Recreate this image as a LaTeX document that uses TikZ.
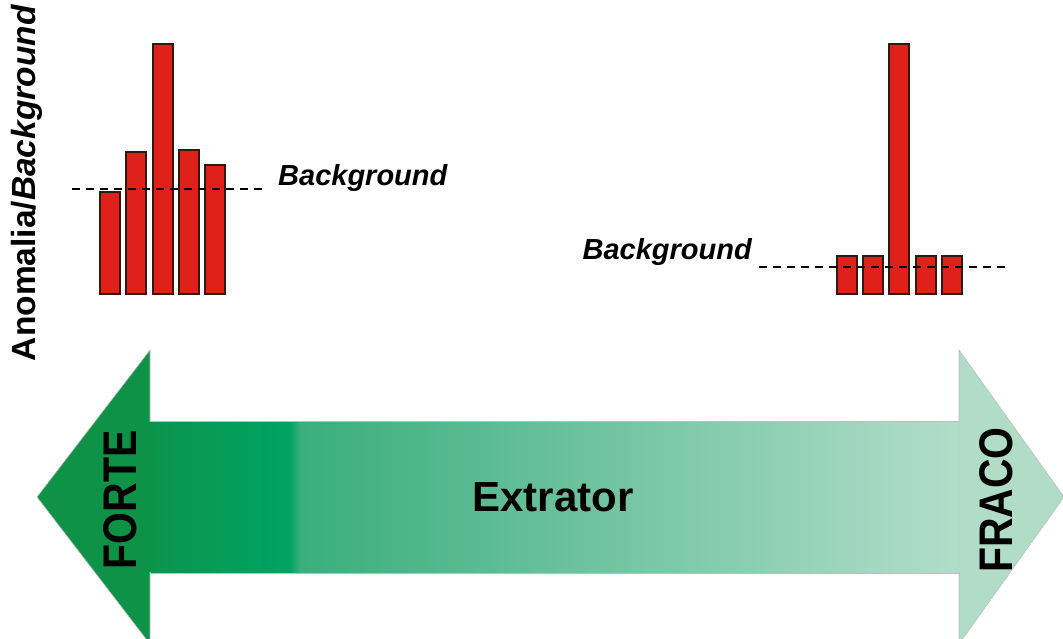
\documentclass[tikz,border=0pt]{standalone}
\usepackage{fontspec}
\setmainfont{Liberation Sans}
\definecolor{barred}{RGB}{224,32,27}
\definecolor{barline}{RGB}{50,25,20}
\definecolor{headdark}{RGB}{14,146,72}
\definecolor{headlight}{RGB}{176,220,200}
\pgfdeclarehorizontalshading{extrshade}{100bp}{%
  color(0bp)=(rgb,255:red,12;green,148;blue,78);
  color(25bp)=(rgb,255:red,12;green,148;blue,78);
  color(33.6bp)=(rgb,255:red,0;green,163;blue,100);
  color(34.3bp)=(rgb,255:red,58;green,174;blue,124);
  color(75bp)=(rgb,255:red,178;green,221;blue,203);
  color(100bp)=(rgb,255:red,178;green,221;blue,203)}
\begin{document}
\begin{tikzpicture}[x=1pt,y=-1pt,
  bar/.style={fill=barred,draw=barline,line width=1.1pt},
  bgline/.style={line width=1.3pt,dash pattern=on 8pt off 6pt},
  bglabel/.style={font=\fontsize{29}{32}\selectfont\bfseries\itshape,inner sep=0pt},
  sidelabel/.style={font=\fontsize{41}{44}\selectfont\bfseries,rotate=90,inner sep=0pt},
  edge/.style={draw=black!25,line width=0.6pt}]
\useasboundingbox (0,0) rectangle (1063,638);
% axis label
\node[rotate=90,inner sep=0pt,font=\fontsize{33.5}{36}\selectfont\bfseries] (ylab) at (27,183) {Anomalia/\textit{Background}};
% left bars
\draw[bar] (100,192) rectangle (120,294);
\draw[bar] (126,152) rectangle (146,294);
\draw[bar] (153,44) rectangle (173,294);
\draw[bar] (179,150) rectangle (199,294);
\draw[bar] (205,165) rectangle (225,294);
\coordinate (lbgA) at (72,189);
\coordinate (lbgB) at (266,189);
\draw[bgline] (lbgA) -- (lbgB);
\node[bglabel,anchor=west] (lbg) at (278,178) {Background};
% right bars
\draw[bar] (837,256) rectangle (857,294);
\draw[bar] (863,256) rectangle (883,294);
\draw[bar] (889,44) rectangle (909,294);
\draw[bar] (916,256) rectangle (936,294);
\draw[bar] (942,256) rectangle (962,294);
\coordinate (rbgA) at (759,267);
\coordinate (rbgB) at (1008,267);
\draw[bgline] (rbgA) -- (rbgB);
\node[bglabel,anchor=east] (rbg) at (752,252) {Background};
% double arrow
\fill[headdark,edge] (150,350) -- (37,497) -- (150,644) -- cycle;
\fill[headlight,edge] (959,350) -- (1064,497) -- (959,644) -- cycle;
\path[shading=extrshade,edge] (150,421) rectangle (959,573);
\fill[headdark] (148,422) rectangle (152,572);
\fill[headlight] (957,422) rectangle (961,572);
\node[font=\fontsize{42}{46}\selectfont\bfseries,inner sep=0pt] (ext) at (553,497) {Extrator};
\node[sidelabel] (forte) at (120,500) {\scalebox{1}[1.15]{FORTE}};
\node[sidelabel] (fraco) at (996,500) {\scalebox{1}[1.15]{FRACO}};
\end{tikzpicture}
\end{document}
